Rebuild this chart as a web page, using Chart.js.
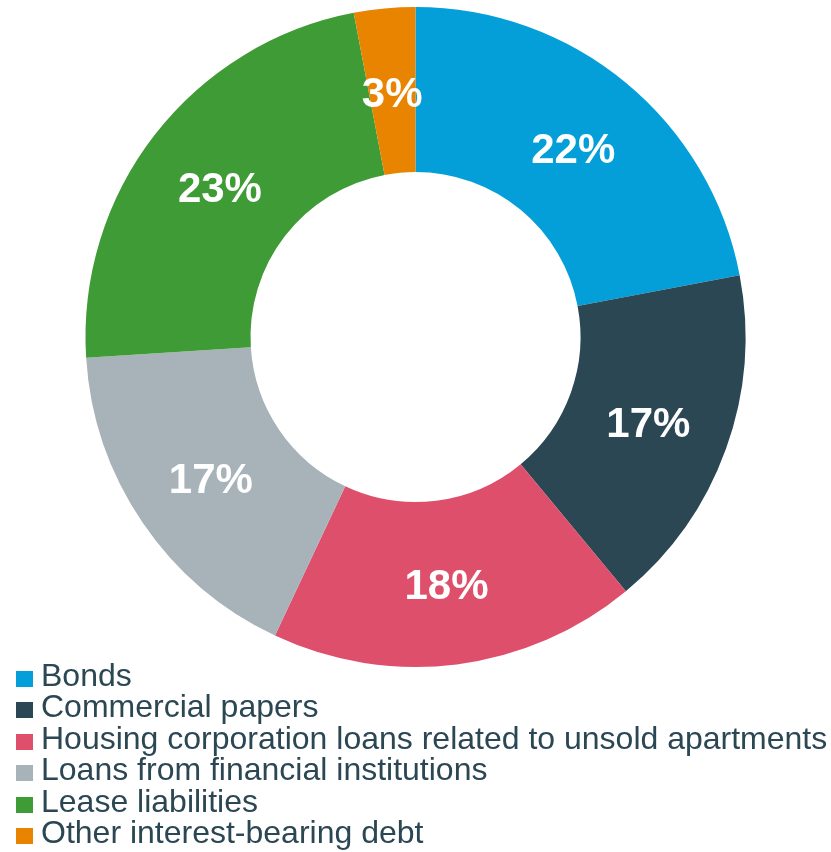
<!DOCTYPE html>
<html>
<head>
<meta charset="utf-8">
<script src="https://cdn.jsdelivr.net/npm/chart.js@4/dist/chart.umd.min.js"></script>
<style>
  html, body { margin: 0; padding: 0; background: #fff; }
  #wrap { position: relative; width: 831px; height: 670px; }
  #legend { list-style: none; margin: 0; padding: 0; position: absolute; left: 16px; top: 660px;
            font-family: "Liberation Sans", Arial, sans-serif; font-size: 32px; color: #2b4754; }
  #legend li { height: 31.4px; line-height: 31.4px; white-space: nowrap; }
  #legend span { display: inline-block; width: 17px; height: 16px; margin-right: 8px; vertical-align: -1px; }
</style>
</head>
<body>
<div id="wrap"><canvas id="debt" width="831" height="670"></canvas></div>
<ul id="legend"></ul>
<script>
var categories = [
    'Bonds',
    'Commercial papers',
    'Housing corporation loans related to unsold apartments',
    'Loans from financial institutions',
    'Lease liabilities',
    'Other interest-bearing debt'
];
var shares = [22, 17, 18, 17, 23, 3];
var colors = ['#049fd9', '#2b4754', '#de4f6c', '#a8b2b9', '#3f9b35', '#e88400'];

// percentage text in the middle of each ring segment
var sliceLabels = {
    id: 'sliceLabels',
    afterDatasetsDraw: function (chart) {
        var ctx = chart.ctx;
        var meta = chart.getDatasetMeta(0);
        ctx.save();
        ctx.fillStyle = '#fff';
        ctx.font = 'bold 42px "Liberation Sans", Arial, sans-serif';
        ctx.textAlign = 'center';
        ctx.textBaseline = 'middle';
        meta.data.forEach(function (arc, i) {
            var p = arc.tooltipPosition();
            ctx.fillText(shares[i] + '%', p.x, p.y + 5);
        });
        ctx.restore();
    }
};

new Chart(document.getElementById('debt'), {
    type: 'doughnut',
    data: {
        labels: categories,
        datasets: [{
            data: shares,
            backgroundColor: colors,
            borderWidth: 0
        }]
    },
    options: {
        responsive: false,
        animation: false,
        cutout: '50%',
        layout: { padding: { top: 7, bottom: 3 } },
        plugins: {
            legend: { display: false },
            tooltip: { enabled: false }
        }
    },
    plugins: [sliceLabels]
});

var legend = document.getElementById('legend');
categories.forEach(function (name, i) {
    var li = document.createElement('li');
    var box = document.createElement('span');
    box.style.background = colors[i];
    li.appendChild(box);
    li.appendChild(document.createTextNode(name));
    legend.appendChild(li);
});
</script>
</body>
</html>
